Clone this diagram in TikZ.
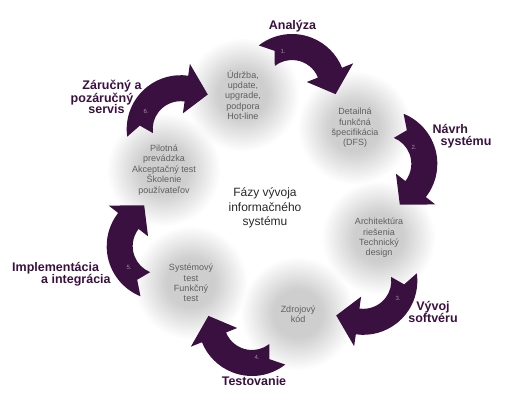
\documentclass[tikz,border=0pt]{standalone}
\usepackage{fontspec}
\setmainfont{Liberation Sans}
\definecolor{arrcol}{RGB}{58,16,64}
\definecolor{phasetxt}{RGB}{95,95,95}
\definecolor{numcol}{RGB}{160,140,165}
\definecolor{centertxt}{RGB}{40,40,40}
\begin{document}
\begin{tikzpicture}[x=1pt,y=-1pt,
  phase/.style={font=\fontsize{9}{10.4}\selectfont, text=phasetxt, align=center, inner sep=0pt},
  stagelbl/.style={font=\bfseries\fontsize{12.5}{11.8}\selectfont, text=arrcol, inner sep=0pt},
  numlbl/.style={font=\fontsize{6}{6}\selectfont, text=numcol, inner sep=0pt},
  blobring/.style={fill=black, fill opacity=0.011}]
\useasboundingbox (0,0) rectangle (505,405);
% soft grey discs
\foreach \p in {(243,95),(355,128),(379,238),(298,314),(191,283),(164,170)}
  \foreach \r in {56,54,...,24}
    \fill[blobring] \p circle (\r);
% curved arrows
\foreach \k in {0,...,5}{
  \begin{scope}[shift={(272,205)}, shift={(-80.3+60*\k:118.7)}]
    \pgfmathsetmacro\aT{-128+60*\k}
    \pgfmathsetmacro\aH{-22+60*\k}
    \pgfmathsetmacro\aP{8+60*\k}
    \pgfmathsetmacro\aN{-115+60*\k}
    \fill[arrcol] (\aT:54) arc[start angle=\aT, end angle=\aH, radius=54]
      -- (\aH:66) -- (\aP:44) -- (\aH:16) -- (\aH:28)
      arc[start angle=\aH, end angle=\aT, radius=28] -- (\aN:41) -- cycle;
  \end{scope}}
% phase texts
\node[phase] (p1) at (243,95) {Údržba,\\update,\\upgrade,\\podpora\\Hot-line};
\node[phase] (p2) at (355,128) {Detailná\\funkčná\\špecifikácia\\(DFS)};
\node[phase] (p3) at (379,238) {Architektúra\\riešenia\\Technický\\design};
\node[phase] (p4) at (298,314) {Zdrojový\\kód};
\node[phase] (p5) at (191,283) {Systémový\\test\\Funkčný\\test};
\node[phase] (p6) at (164,170) {Pilotná\\prevádzka\\Akceptačný test\\Školenie\\používateľov};
% centre
\node[font=\fontsize{12}{14.5}\selectfont, text=centertxt, align=center] (ctr) at (265,208) {Fázy vývoja\\informačného\\systému};
% numbers
\node[numlbl] (n1) at (283,51) {1.};
\node[numlbl] (n2) at (414,147) {2.};
\node[numlbl] (n3) at (398,298) {3.};
\node[numlbl] (n4) at (257,357) {4.};
\node[numlbl] (n5) at (129,267) {5.};
\node[numlbl] (n6) at (146,111) {6.};
% stage labels
\node[stagelbl] (s1) at (292.5,26) {Analýza};
\node[stagelbl, align=left, anchor=west] (s2) at (432.5,136) {Návrh\\\hspace*{8pt}systému};
\node[stagelbl, align=center] (s3) at (433,312) {Vývoj\\softvéru};
\node[stagelbl] (s4) at (254,381) {Testovanie};
\node[stagelbl, align=left, anchor=west] (s5) at (12,274) {Implementácia\\\hspace*{29pt}a integrácia};
\node[stagelbl, align=center] (s6) at (102,97) {\hspace*{20pt}Záručný a\\pozáručný\\\hspace*{9pt}servis};
\end{tikzpicture}
\end{document}
